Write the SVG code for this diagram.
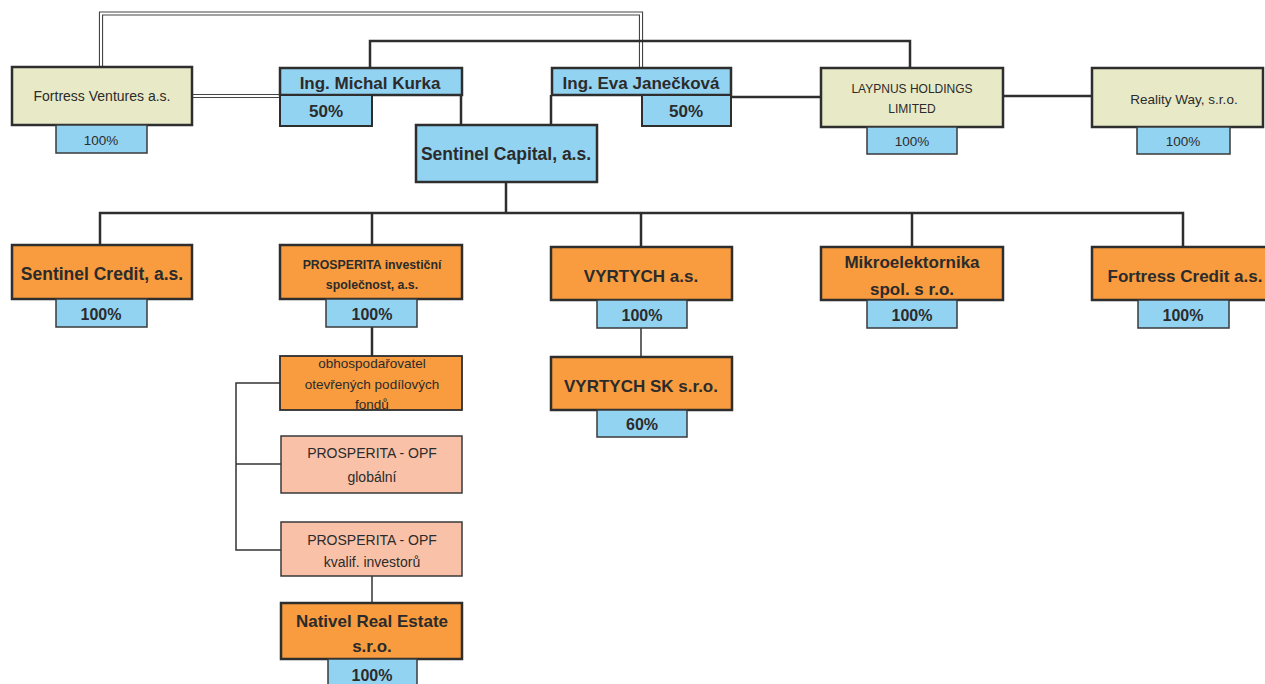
<svg xmlns="http://www.w3.org/2000/svg" width="1265" height="684" viewBox="0 0 1265 684">
<style>
text{font-family:"Liberation Sans",Arial,sans-serif;fill:#2b2b2b;text-anchor:middle}
.b{font-weight:bold}
.beige{fill:#e8e9c6;stroke:#2e2e2e;stroke-width:2.5}
.blue{fill:#93d3f2;stroke:#2e2e2e;stroke-width:2.5}
.orange{fill:#f89c3f;stroke:#2e2e2e;stroke-width:2.5}
.salmon{fill:#f9c2a8;stroke:#3a3a3a;stroke-width:1.5}
.pct{fill:#93d3f2;stroke:#3a3a3a;stroke-width:1.5}
.ln{fill:none;stroke:#2e2e2e;stroke-width:2.5}
.thin{fill:none;stroke:#333;stroke-width:1.5}
.dbo{fill:none;stroke:#444;stroke-width:4.2}
.dbi{fill:none;stroke:#fff;stroke-width:2}
</style>
<rect width="1265" height="684" fill="#ffffff"/>
<g id="connectors">
  <path class="dbo" d="M101,67 V13.5 H641 V68"/>
  <path class="dbi" d="M101,67 V13.5 H641 V68"/>
  <path class="dbo" d="M192,96 H280"/>
  <path class="dbi" d="M192,96 H280"/>
  <path class="ln" d="M370,68 V41 H910 V68"/>
  <path class="ln" d="M461,95 V125"/>
  <path class="ln" d="M551,95 V125"/>
  <path class="ln" d="M731,97 H821"/>
  <path class="ln" d="M1003,96 H1092"/>
  <path class="ln" d="M506,182 V213"/>
  <path class="ln" d="M100,245 V213 H1183 V247"/>
  <path class="ln" d="M372,213 V245"/>
  <path class="ln" d="M641,213 V247"/>
  <path class="ln" d="M912,213 V247"/>
  <path class="ln" d="M372,327 V356"/>
  <path class="thin" d="M641,328 V357"/>
  <path class="thin" d="M281,383 H236 V550 H281"/>
  <path class="thin" d="M236,464 H281"/>
  <path class="thin" d="M372,576 V603"/>
</g>
<g id="fortress-ventures">
  <rect class="beige" x="12" y="67" width="180" height="58"/>
  <text x="102" y="101" font-size="14">Fortress Ventures a.s.</text>
  <rect class="pct" x="56" y="125" width="91" height="28"/>
  <text x="101" y="145" font-size="13.5">100%</text>
</g>
<g id="kurka">
  <rect class="blue" x="280" y="68" width="182" height="27"/>
  <text x="370" y="89" font-size="17" class="b">Ing. Michal Kurka</text>
  <rect class="blue" x="280" y="95" width="92" height="31" style="stroke-width:2"/>
  <text x="326" y="117" font-size="17" class="b">50%</text>
</g>
<g id="janeckova">
  <rect class="blue" x="552" y="68" width="179" height="27"/>
  <text x="641" y="89" font-size="17" class="b">Ing. Eva Janečková</text>
  <rect class="blue" x="642" y="95" width="89" height="31" style="stroke-width:2"/>
  <text x="686" y="117" font-size="17" class="b">50%</text>
</g>
<g id="laypnus">
  <rect class="beige" x="821" y="68" width="182" height="59"/>
  <text x="912" y="93" font-size="12">LAYPNUS HOLDINGS</text>
  <text x="912" y="113" font-size="12">LIMITED</text>
  <rect class="pct" x="867" y="127" width="90" height="27"/>
  <text x="912" y="146" font-size="13.5">100%</text>
</g>
<g id="reality-way">
  <rect class="beige" x="1092" y="68" width="171" height="59"/>
  <text x="1184" y="104" font-size="13.5">Reality Way, s.r.o.</text>
  <rect class="pct" x="1137" y="127" width="93" height="27"/>
  <text x="1183" y="146" font-size="13.5">100%</text>
</g>
<g id="sentinel-capital">
  <rect class="blue" x="416" y="125" width="181" height="57"/>
  <text x="506" y="160" font-size="17.5" class="b">Sentinel Capital, a.s.</text>
</g>
<g id="sentinel-credit">
  <rect class="orange" x="12" y="245" width="180" height="54"/>
  <text x="102" y="280" font-size="17.5" class="b">Sentinel Credit, a.s.</text>
  <rect class="pct" x="56" y="299" width="91" height="28"/>
  <text x="101" y="320" font-size="16" class="b">100%</text>
</g>
<g id="prosperita-is">
  <rect class="orange" x="280" y="245" width="182" height="54"/>
  <text x="372" y="269" font-size="12.3" class="b">PROSPERITA investiční</text>
  <text x="372" y="289" font-size="12.3" class="b">společnost, a.s.</text>
  <rect class="pct" x="326" y="299" width="91" height="28"/>
  <text x="372" y="320" font-size="16" class="b">100%</text>
</g>
<g id="obhospodarovatel">
  <rect class="orange" x="280" y="356" width="182" height="54" style="stroke-width:1.8"/>
  <text x="372" y="368" font-size="13.5">obhospodařovatel</text>
  <text x="372" y="389" font-size="13.5">otevřených podílových</text>
  <text x="372" y="409" font-size="13.5">fondů</text>
</g>
<g id="opf-globalni">
  <rect class="salmon" x="281" y="436" width="181" height="57"/>
  <text x="372" y="458" font-size="14">PROSPERITA - OPF</text>
  <text x="372" y="482" font-size="14">globální</text>
</g>
<g id="opf-kvalif">
  <rect class="salmon" x="281" y="522" width="181" height="54"/>
  <text x="372" y="545" font-size="14">PROSPERITA - OPF</text>
  <text x="372" y="567" font-size="14">kvalif. investorů</text>
</g>
<g id="nativel">
  <rect class="orange" x="281" y="603" width="181" height="56"/>
  <text x="372" y="627" font-size="17" class="b">Nativel Real Estate</text>
  <text x="372" y="652" font-size="17" class="b">s.r.o.</text>
  <rect class="pct" x="328" y="659" width="89" height="32"/>
  <text x="372" y="681" font-size="16" class="b">100%</text>
</g>
<g id="vyrtych">
  <rect class="orange" x="551" y="247" width="181" height="53"/>
  <text x="641" y="282" font-size="17" class="b">VYRTYCH a.s.</text>
  <rect class="pct" x="597" y="300" width="90" height="28"/>
  <text x="642" y="321" font-size="16" class="b">100%</text>
</g>
<g id="vyrtych-sk">
  <rect class="orange" x="551" y="357" width="181" height="53"/>
  <text x="641" y="392" font-size="17" class="b">VYRTYCH SK s.r.o.</text>
  <rect class="pct" x="597" y="410" width="90" height="27"/>
  <text x="642" y="430" font-size="16" class="b">60%</text>
</g>
<g id="mikroelektornika">
  <rect class="orange" x="821" y="247" width="182" height="53"/>
  <text x="912" y="268" font-size="17" class="b">Mikroelektornika</text>
  <text x="912" y="295" font-size="17" class="b">spol. s r.o.</text>
  <rect class="pct" x="867" y="300" width="90" height="28"/>
  <text x="912" y="321" font-size="16" class="b">100%</text>
</g>
<g id="fortress-credit">
  <rect class="orange" x="1092" y="247" width="184" height="53"/>
  <text x="1185" y="282" font-size="17" class="b">Fortress Credit a.s.</text>
  <rect class="pct" x="1138" y="300" width="91" height="28"/>
  <text x="1183" y="321" font-size="16" class="b">100%</text>
</g>
</svg>
